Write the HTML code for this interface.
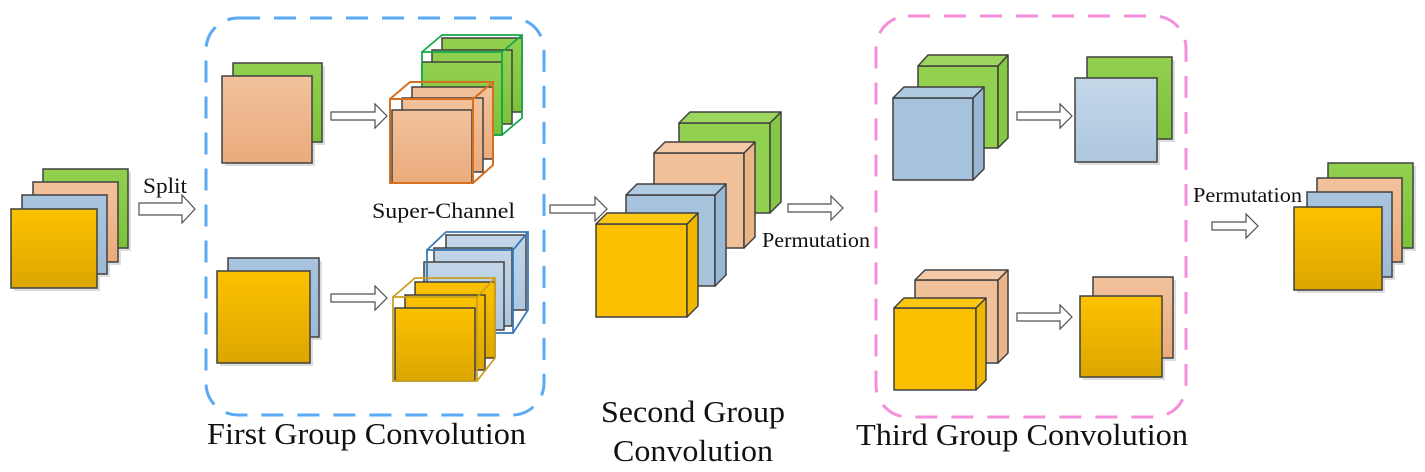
<!DOCTYPE html>
<html><head><meta charset="utf-8"><style>
html,body{margin:0;padding:0;background:#fff;width:1425px;height:472px;overflow:hidden}
svg{display:block}
text{font-family:"Liberation Serif",serif;fill:#111}
</style></head><body>
<svg width="1425" height="472" viewBox="0 0 1425 472" xmlns="http://www.w3.org/2000/svg">
<defs>
<linearGradient id="gy" x1="0" y1="0" x2="0" y2="1"><stop offset="0" stop-color="#fcc200"/><stop offset="1" stop-color="#dca600"/></linearGradient>
<linearGradient id="gp" x1="0" y1="0" x2="0" y2="1"><stop offset="0" stop-color="#f2c29c"/><stop offset="1" stop-color="#eaab7c"/></linearGradient>
<linearGradient id="gg" x1="0" y1="0" x2="0" y2="1"><stop offset="0" stop-color="#92d050"/><stop offset="1" stop-color="#7bc23a"/></linearGradient>
<linearGradient id="gb" x1="0" y1="0" x2="0" y2="1"><stop offset="0" stop-color="#a8c4de"/><stop offset="1" stop-color="#9ebad6"/></linearGradient>
<linearGradient id="glb" x1="0" y1="0" x2="0" y2="1"><stop offset="0" stop-color="#c4d7e9"/><stop offset="1" stop-color="#adc7df"/></linearGradient>
</defs>
<g stroke="#404040" stroke-width="1.5">
<g fill="#ddd" stroke="none"><rect x="46" y="172" width="85" height="79"/><rect x="36" y="185" width="85" height="80"/><rect x="25" y="198" width="85" height="79"/><rect x="14" y="212" width="86" height="79"/></g>
<rect x="43" y="169" width="85" height="79" fill="url(#gg)"/>
<rect x="33" y="182" width="85" height="80" fill="url(#gp)"/>
<rect x="22" y="195" width="85" height="79" fill="url(#gb)"/>
<rect x="11" y="209" width="86" height="79" fill="url(#gy)"/>

<g fill="#fff" stroke="#505050" stroke-width="1.2">
<path d="M139 203H182V195L195 209L182 223V215H139Z"/>
<path d="M331 112H375V104L387 116L375 128V120H331Z"/>
<path d="M331 294H375V286L387 298L375 310V302H331Z"/>
<path d="M550 205H595V197L607 209L595 221V213H550Z"/>
<path d="M788 204H831V196L843 208L831 220V212H788Z"/>
<path d="M1017 112H1060V104L1072 116L1060 128V120H1017Z"/>
<path d="M1017 313H1060V305L1072 317L1060 329V321H1017Z"/>
<path d="M1212 222H1246V214L1258 226L1246 238V230H1212Z"/>
</g>

<rect x="236" y="66" width="89" height="79" fill="#ddd" stroke="none"/>
<rect x="225" y="79" width="90" height="87" fill="#ddd" stroke="none"/>
<rect x="233" y="63" width="89" height="79" fill="url(#gg)"/>
<rect x="222" y="76" width="90" height="87" fill="url(#gp)"/>
<rect x="231" y="261" width="91" height="79" fill="#ddd" stroke="none"/>
<rect x="220" y="274" width="93" height="92" fill="#ddd" stroke="none"/>
<rect x="228" y="258" width="91" height="79" fill="url(#gb)"/>
<rect x="217" y="271" width="93" height="92" fill="url(#gy)"/>

<rect x="442" y="38" width="80" height="74" fill="url(#gg)"/>
<rect x="432" y="50" width="80" height="74" fill="url(#gg)"/>
<rect x="422" y="62" width="80" height="73" fill="url(#gg)"/>
<g fill="none" stroke="#17a84a" stroke-width="1.8"><rect x="422" y="52" width="80" height="83"/><path d="M422 52L442 35H522V118L502 135M502 52L522 35"/></g>
<rect x="412" y="87" width="81" height="72" fill="url(#gp)"/>
<rect x="402" y="98" width="81" height="74" fill="url(#gp)"/>
<rect x="392" y="110" width="80" height="73" fill="url(#gp)"/>
<g fill="none" stroke="#d4701f" stroke-width="2"><rect x="390" y="99" width="83" height="84"/><path d="M390 99L410 82H493V165L473 183M473 99L493 82"/></g>

<rect x="446" y="235" width="80" height="75" fill="url(#glb)"/>
<rect x="434" y="248" width="78" height="78" fill="url(#glb)"/>
<rect x="424" y="262" width="80" height="68" fill="url(#glb)"/>
<g fill="none" stroke="#3b78b8" stroke-width="1.8"><rect x="427" y="250" width="86" height="83"/><path d="M427 250L446 232H528V310L513 333M513 250L528 232"/></g>
<rect x="415" y="282" width="80" height="76" fill="url(#gy)"/>
<rect x="405" y="295" width="80" height="75" fill="url(#gy)"/>
<rect x="395" y="308" width="80" height="73" fill="url(#gy)"/>
<g fill="none" stroke="#c9a020" stroke-width="1.8"><rect x="393" y="297" width="84" height="84"/><path d="M393 297L415 278H495V358L477 381M477 297L495 278"/></g>

<g stroke-linejoin="round">
<rect x="679" y="123" width="91" height="90" fill="#92d050"/><path d="M770 123L781 112V202L770 213Z" fill="#85c845"/><path d="M679 123L690 112H781L770 123Z" fill="#9dd65f"/>
<rect x="654" y="153" width="90" height="95" fill="#f0c098"/><path d="M744 153L755 142V237L744 248Z" fill="#ebb58a"/><path d="M654 153L665 142H755L744 153Z" fill="#f3c9a6"/>
<rect x="626" y="195" width="89" height="91" fill="#a6c2dc"/><path d="M715 195L726 184V275L715 286Z" fill="#9ab8d4"/><path d="M626 195L637 184H726L715 195Z" fill="#b0cae2"/>
<rect x="596" y="224" width="91" height="93" fill="#fdc000"/><path d="M687 224L698 213V306L687 317Z" fill="#f2b800"/><path d="M596 224L607 213H698L687 224Z" fill="#fdc814"/>

<rect x="918" y="66" width="80" height="82" fill="#92d050"/><path d="M998 66L1008 55V138L998 148Z" fill="#85c845"/><path d="M918 66L928 55H1008L998 66Z" fill="#9dd65f"/>
<rect x="893" y="98" width="80" height="82" fill="#a6c2dc"/><path d="M973 98L984 87V169L973 180Z" fill="#9ab8d4"/><path d="M893 98L904 87H984L973 98Z" fill="#b0cae2"/>
<rect x="915" y="280" width="83" height="83" fill="#f0c098"/><path d="M998 280L1008 270V353L998 363Z" fill="#ebb58a"/><path d="M915 280L925 270H1008L998 280Z" fill="#f3c9a6"/>
<rect x="894" y="308" width="82" height="82" fill="#fdc000"/><path d="M976 308L986 298V380L976 390Z" fill="#f2b800"/><path d="M894 308L904 298H986L976 308Z" fill="#fdc814"/>
</g>
<g fill="#ddd" stroke="none"><rect x="1090" y="60" width="85" height="82"/><rect x="1078" y="81" width="82" height="84"/><rect x="1096" y="280" width="80" height="81"/><rect x="1083" y="299" width="82" height="81"/></g>
<rect x="1087" y="57" width="85" height="82" fill="url(#gg)"/>
<rect x="1075" y="78" width="82" height="84" fill="url(#glb)"/>
<rect x="1093" y="277" width="80" height="81" fill="url(#gp)"/>
<rect x="1080" y="296" width="82" height="81" fill="url(#gy)"/>

<g fill="#ddd" stroke="none"><rect x="1331" y="166" width="85" height="85"/><rect x="1320" y="181" width="85" height="84"/><rect x="1310" y="195" width="85" height="85"/><rect x="1297" y="210" width="88" height="83"/></g>
<rect x="1328" y="163" width="85" height="85" fill="url(#gg)"/>
<rect x="1317" y="178" width="85" height="84" fill="url(#gp)"/>
<rect x="1307" y="192" width="85" height="85" fill="url(#gb)"/>
<rect x="1294" y="207" width="88" height="83" fill="url(#gy)"/>
</g>

<rect x="206" y="18" width="338" height="397" rx="32" fill="none" stroke="#5aaaf5" stroke-width="3" stroke-dasharray="22 14"/>
<rect x="876" y="16" width="310" height="401" rx="32" fill="none" stroke="#f48fdc" stroke-width="3" stroke-dasharray="22 14"/>

<text x="143" y="193" font-size="22" textLength="44" lengthAdjust="spacingAndGlyphs">Split</text>
<text x="372" y="218" font-size="22" textLength="143" lengthAdjust="spacingAndGlyphs">Super-Channel</text>
<text x="762" y="247" font-size="21" textLength="108" lengthAdjust="spacingAndGlyphs">Permutation</text>
<text x="1193" y="202" font-size="21" textLength="109" lengthAdjust="spacingAndGlyphs">Permutation</text>
<text x="207" y="444" font-size="31" textLength="319" lengthAdjust="spacingAndGlyphs">First Group Convolution</text>
<text x="601" y="422" font-size="31" textLength="184" lengthAdjust="spacingAndGlyphs">Second Group</text>
<text x="613" y="461" font-size="31" textLength="160" lengthAdjust="spacingAndGlyphs">Convolution</text>
<text x="856" y="445" font-size="31" textLength="332" lengthAdjust="spacingAndGlyphs">Third Group Convolution</text>
</svg>
</body></html>
